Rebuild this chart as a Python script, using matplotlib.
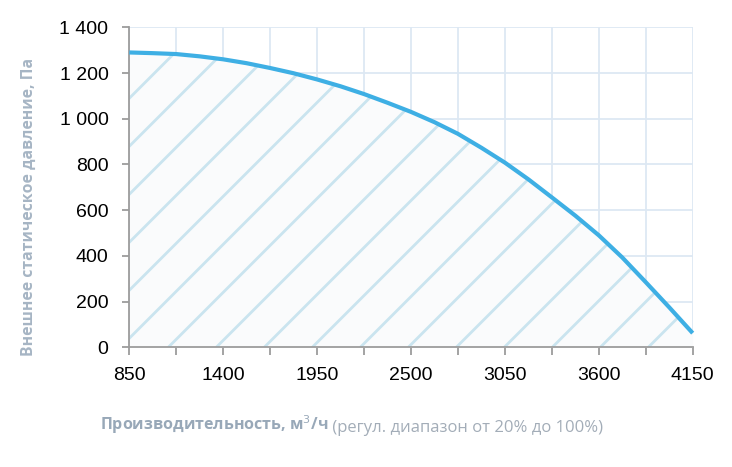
import matplotlib
matplotlib.use("Agg")
import matplotlib.pyplot as plt
from matplotlib import font_manager

# ---- data ----
flow = [850, 987.5, 1125, 1262.5, 1400, 1537.5, 1675, 1812.5, 1950, 2087.5, 2225,
        2362.5, 2500, 2637.5, 2775, 2912.5, 3050, 3187.5, 3325, 3462.5, 3600,
        3737.5, 3875, 4012.5, 4150]
pressure = [1290, 1287, 1283, 1273, 1260, 1243, 1222, 1199, 1172, 1142, 1108,
            1070, 1030, 985, 934, 873, 808, 735, 656, 576, 490,
            393, 285, 175, 62]

x_ticks = [850, 1400, 1950, 2500, 3050, 3600, 4150]
x_tick_labels = ["850", "1400", "1950", "2500", "3050", "3600", "4150"]
x_minor = [1125, 1675, 2225, 2775, 3325, 3875]
y_ticks = [0, 200, 400, 600, 800, 1000, 1200, 1400]
y_tick_labels = ["0", "200", "400", "600", "800", "1 000", "1 200", "1 400"]

ylabel = "Внешнее статическое давление, Па"
xlabel_bold = "Производительность, м$^3$/ч"
xlabel_rest = " (регул. диапазон от 20% до 100%)"

installed = {f.name for f in font_manager.fontManager.ttflist}
label_font = "Liberation Sans Narrow" if "Liberation Sans Narrow" in installed else "Open Sans"
plt.rcParams["font.family"] = ["Liberation Sans", "DejaVu Sans"]

fig = plt.figure(figsize=(7.32, 4.67), dpi=100)
ax = fig.add_axes([0.1766, 0.2563, 0.9463 - 0.1766, 0.9415 - 0.2563])

ax.set_xlim(850, 4150)
ax.set_ylim(0, 1400)

# grid
grid_c = "#dde8f3"
ax.set_xticks(x_ticks)
ax.set_xticklabels(x_tick_labels)
ax.set_xticks(x_minor, minor=True)
ax.set_yticks(y_ticks)
ax.set_yticklabels(y_tick_labels)
ax.grid(True, which="both", axis="x", color=grid_c, linewidth=1.3, zorder=0)
ax.grid(True, which="major", axis="y", color=grid_c, linewidth=1.3, zorder=0)
ax.set_axisbelow(True)

# fill
poly = ax.fill_between(flow, pressure, 0, color="#fafbfc", linewidth=0, zorder=1)

# hatch lines (45 deg in pixel space), clipped to area under curve
fig.canvas.draw()
bbox = ax.get_window_extent()
W, H = bbox.width, bbox.height
s = 48.0 / W
x0 = (168.3 - 129.3) / W
clip_path = poly.get_paths()[0]
for k in range(-15, 15):
    xs = x0 + k * s
    ln, = ax.plot([xs, xs + H / W], [0, 1], transform=ax.transAxes,
                  color="#cae4ef", linewidth=2.0, zorder=2, solid_capstyle="butt")
    ln.set_clip_path(clip_path, transform=ax.transData)

# curve
ax.plot(flow, pressure, color="#3eafe4", linewidth=3.0, zorder=5, clip_on=False,
        solid_capstyle="butt")

# spines
for side in ["top", "right"]:
    ax.spines[side].set_visible(False)
for side in ["left", "bottom"]:
    ax.spines[side].set_color("#9c9c9c")
    ax.spines[side].set_linewidth(1.3)

ax.tick_params(axis="x", which="both", direction="out", length=6, width=1.3,
               color="#9c9c9c", labelsize=14, pad=8, labelcolor="black")
ax.tick_params(axis="y", which="both", direction="out", length=5, width=1.3,
               color="#9c9c9c", labelsize=14, pad=10, labelcolor="black")

# labels
fig.text(29 / 732, 1 - 207 / 467, ylabel, rotation=90, ha="center", va="center",
         fontsize=11.3, fontweight="bold", color="#a6b5c4", family=[label_font, "DejaVu Sans"])

t1 = fig.text(100 / 732, 1 - 430 / 467, xlabel_bold, ha="left", va="baseline",
              fontsize=11.5, fontweight="bold", color="#98a8b8", family=[label_font, "DejaVu Sans"])
fig.canvas.draw()
ax.annotate(xlabel_rest, xy=(1, 0), xycoords=t1, ha="left", va="bottom",
            fontsize=12, color="#a3adb8", family=[label_font, "DejaVu Sans"],
            annotation_clip=False)

fig.savefig("out.png", dpi=100)
